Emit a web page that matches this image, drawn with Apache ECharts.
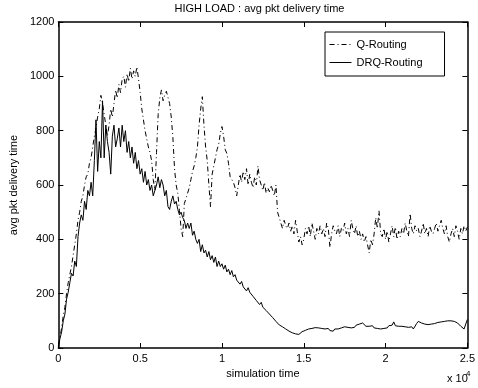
<!DOCTYPE html>
<html>
<head>
<meta charset="utf-8">
<script src="https://cdn.jsdelivr.net/npm/echarts@6/dist/echarts.min.js"></script>
<style>
html,body{margin:0;padding:0;background:#fff;}
#c{width:478px;height:388px;}
</style>
</head>
<body>
<div id="c"></div>
<script>
// sampling step of the simulation time axis
const timeStep = 100;

const xTickLabels = ['0', '0.5', '1', '1.5', '2', '2.5'];
const yTickLabels = ['0', '200', '400', '600', '800', '1000', '1200'];
const seriesNames = ['Q-Routing', 'DRQ-Routing'];

const qRouting = [
  10, 40, 75, 120, 150, 200, 240, 270, 300, 340,
  380, 420, 470, 500, 540, 560, 600, 630, 640, 680,
  700, 740, 780, 810, 850, 880, 930, 900, 860, 820,
  780, 820, 880, 850, 900, 950, 920, 970, 940, 990,
  1000, 960, 1010, 980, 1030, 990, 1020, 1000, 1035, 990,
  940, 880, 840, 800, 770, 740, 720, 690, 620, 580,
  720, 860, 920, 950, 910, 930, 945, 950, 900, 850,
  775, 660, 600, 570, 507, 440, 410, 532, 550, 555,
  590, 620, 650, 670, 700, 740, 820, 880, 925, 820,
  740, 690, 600, 520, 640, 670, 700, 730, 750, 790,
  815, 780, 730, 716, 680, 630, 620, 610, 590, 560,
  600, 640, 610, 650, 620, 660, 600, 640, 610, 590,
  630, 600, 670, 620, 600, 580, 610, 570, 590, 575,
  600, 580, 560, 600, 500, 480, 460, 440, 470, 450,
  440, 460, 430, 450, 420, 470, 430, 390, 410, 380,
  400, 440, 420, 450, 410, 460, 430, 400, 440, 420,
  450, 420, 440, 410, 460, 440, 370, 420, 450, 430,
  420, 450, 410, 440, 430, 460, 420, 440, 410, 470,
  440, 420, 450, 410, 430, 400, 420, 390, 410, 380,
  350, 400, 380, 420, 480, 440, 505, 420, 410, 440,
  400, 430, 390, 420, 450, 410, 445, 400, 430, 410,
  440, 420, 460, 430, 410, 495, 440, 420, 450, 430,
  440, 410, 430, 460, 420, 440, 410, 450, 430, 420,
  440, 460, 430, 450, 470, 440, 420, 450, 410, 390,
  420, 440, 410, 450, 430, 400, 440, 420, 450, 430,
  445
];

const drqRouting = [
  5, 35, 60, 100, 125, 180, 205, 240, 275, 265,
  320, 300, 410, 460, 490, 470, 540, 510, 580, 560,
  610, 560, 690, 840, 650, 760, 700, 910, 700, 820,
  760, 720, 640, 780, 820, 740, 770, 810, 740, 820,
  760, 800, 720, 760, 700, 740, 680, 720, 660, 690,
  640, 660, 610, 650, 600, 620, 580, 600, 560, 580,
  600, 630, 590, 620, 600, 560, 580, 520, 510, 540,
  560, 530, 540, 510, 490, 500, 480, 470, 440, 460,
  440, 460, 415, 430, 400, 385, 400, 355, 380, 350,
  360, 335, 355, 325, 340, 315, 335, 300, 320, 300,
  310, 290, 305, 280, 290, 270, 285, 262, 270, 250,
  255, 235, 245, 225, 230, 210, 222, 205, 210, 190,
  190, 175, 180, 160, 168, 150, 155, 138, 140, 125,
  118, 112, 105, 98, 92, 85, 80, 78, 72, 70,
  68, 62, 60, 56, 58, 52, 55, 50, 55, 60,
  58, 65, 62, 70, 66, 72, 68, 75, 70, 74,
  78, 72, 76, 70, 66, 72, 64, 68, 62, 70,
  64, 70, 68, 74, 70, 78, 72, 76, 80, 74,
  80, 76, 84, 78, 88, 82, 92, 86, 80, 84,
  80, 76, 82, 74, 78, 72, 76, 70, 74, 72,
  78, 74, 82, 88, 84, 96, 82, 88, 80, 84,
  80, 86, 78, 82, 76, 72, 78, 70, 76, 90,
  98, 102, 92, 96, 88, 94, 86, 92, 88, 84,
  90, 86, 94, 88, 96, 92, 98, 94, 100, 96,
  100, 104, 98, 96, 92, 86, 80, 76, 70, 66,
  105
];

const FONT = '"Liberation Sans", Arial, Helvetica, sans-serif';
const toPairs = arr => arr.map((v, i) => [i * timeStep, v]);

const chart = echarts.init(document.getElementById('c'), null, {renderer: 'canvas'});

const xFmt = v => xTickLabels[Math.round(v / 5000)];
const yFmt = v => yTickLabels[Math.round(v / 200)];

const baseAxisX = {
  type: 'value', min: 0, max: 25000, interval: 5000,
  axisLine: {show: true, onZero: false, lineStyle: {color: '#000', width: 1.5}},
  axisTick: {show: true, inside: true, length: 5, lineStyle: {color: '#000', width: 1}},
  splitLine: {show: false}
};
const baseAxisY = {
  type: 'value', min: 0, max: 1200, interval: 200,
  axisLine: {show: true, onZero: false, lineStyle: {color: '#000', width: 1.5}},
  axisTick: {show: true, inside: true, length: 5, lineStyle: {color: '#000', width: 1}},
  splitLine: {show: false}
};

chart.setOption({
  animation: false,
  backgroundColor: '#fff',
  textStyle: {fontFamily: FONT},
  grid: {left: 49, right: 8, top: 22, bottom: 40, containLabel: false},
  legend: {
    orient: 'vertical',
    left: 325, top: 32,
    data: seriesNames,
    itemWidth: 22, itemHeight: 10, itemGap: 7,
    padding: [7, 22, 8, 4],
    backgroundColor: '#fff',
    borderColor: '#000', borderWidth: 1, borderRadius: 0,
    itemStyle: {opacity: 0},
    lineStyle: {width: 1},
    textStyle: {fontSize: 11, color: '#000', fontFamily: FONT},
    selectedMode: false
  },
  xAxis: [
    Object.assign({}, baseAxisX, {
      position: 'bottom',
      axisLabel: {show: true, formatter: xFmt, fontSize: 11, color: '#000', margin: 5, fontFamily: FONT},
      name: 'simulation time', nameLocation: 'middle', nameGap: 17,
      nameTextStyle: {fontSize: 11, color: '#000', fontFamily: FONT}
    }),
    Object.assign({}, baseAxisX, {position: 'top', axisLabel: {show: false}})
  ],
  yAxis: [
    Object.assign({}, baseAxisY, {
      position: 'left',
      axisLabel: {show: true, formatter: yFmt, fontSize: 11, color: '#000', margin: 4, fontFamily: FONT},
      name: 'avg pkt delivery time', nameLocation: 'middle', nameGap: 30,
      nameTextStyle: {fontSize: 11, color: '#000', fontFamily: FONT}
    }),
    Object.assign({}, baseAxisY, {position: 'right', axisLabel: {show: false}})
  ],
  graphic: [
    {type: 'text', x: 259.5, y: 9,
     style: {text: 'HIGH LOAD : avg pkt delivery time', fill: '#000', font: '11px ' + FONT, align: 'center', verticalAlign: 'middle'}},
    {type: 'text', x: 447, y: 384,
     style: {text: 'x 10', fill: '#000', font: '11px ' + FONT, align: 'left', verticalAlign: 'bottom'}},
    {type: 'text', x: 466, y: 378,
     style: {text: '4', fill: '#000', font: '8px ' + FONT, align: 'left', verticalAlign: 'bottom'}}
  ],
  series: [
    {
      name: seriesNames[0], type: 'line', xAxisIndex: 0, yAxisIndex: 0,
      data: toPairs(qRouting),
      symbol: 'none', showSymbol: false, sampling: null,
      lineStyle: {color: '#000', width: 1, type: [5, 3, 1, 3]},
      itemStyle: {color: '#000'}, z: 2
    },
    {
      name: seriesNames[1], type: 'line', xAxisIndex: 0, yAxisIndex: 0,
      data: toPairs(drqRouting),
      symbol: 'none', showSymbol: false, sampling: null,
      lineStyle: {color: '#000', width: 1, type: 'solid'},
      itemStyle: {color: '#000'}, z: 3
    }
  ]
});
</script>
</body>
</html>
